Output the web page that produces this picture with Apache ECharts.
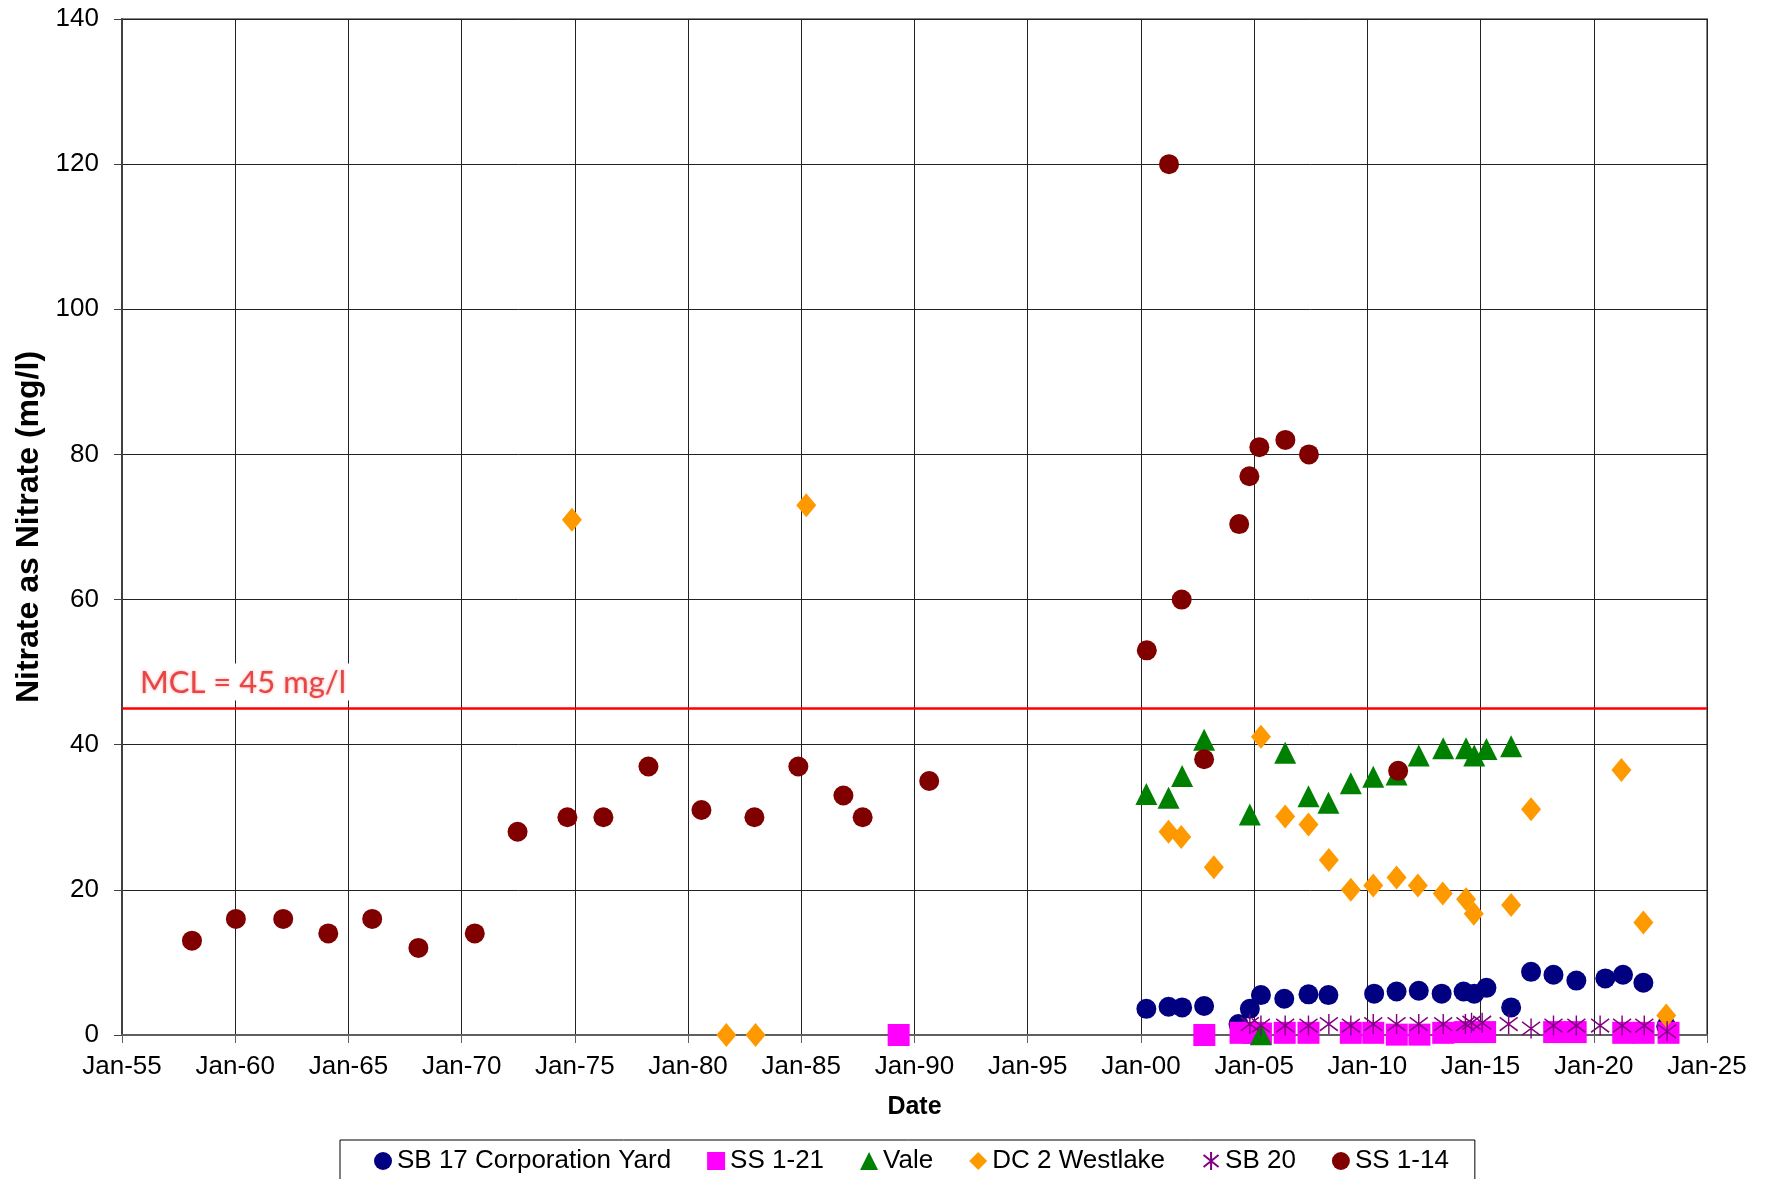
<!DOCTYPE html>
<html>
<head>
<meta charset="utf-8">
<title>Nitrate as Nitrate</title>
<script src="https://cdn.jsdelivr.net/npm/echarts@6/dist/echarts.min.js"></script>
<style>
    html, body {margin: 0; padding: 0; background: #fff;}
    #chart {width: 1767px; height: 1179px;}
</style>
</head>
<body>
<div id="chart"></div>
<script>
// x values are decimal years, y values are mg/l
const yearTicks = [1955, 1960, 1965, 1970, 1975, 1980, 1985, 1990, 1995, 2000, 2005, 2010, 2015, 2020, 2025];
const mclValue = 45;

const sb17Years = [2000.24, 2001.22, 2001.82, 2002.79, 2004.31, 2004.81, 2005.30, 2006.33, 2007.40, 2008.28,
    2010.30, 2011.29, 2012.27, 2013.28, 2014.25, 2014.72, 2015.26, 2016.35, 2017.23, 2018.22,
    2019.23, 2020.51, 2021.29, 2022.19, 2023.20];
const sb17Values = [3.6, 3.9, 3.8, 4.0, 1.5, 3.6, 5.5, 5.0, 5.6, 5.5,
    5.7, 6.0, 6.1, 5.7, 6.0, 5.7, 6.5, 3.8, 8.7, 8.3,
    7.5, 7.8, 8.3, 7.2, 1.2];

const ss121Years = [1989.3, 2002.8, 2004.4, 2004.95, 2005.3, 2006.35, 2007.4, 2009.27, 2010.26, 2011.3,
    2012.3, 2013.35, 2014.3, 2015.2, 2018.25, 2019.2, 2021.3, 2022.2, 2023.3];
const ss121Values = [0, 0, 0.3, 0.3, 0.2, 0.3, 0.3, 0.3, 0.3, 0.05,
    0.05, 0.3, 0.4, 0.4, 0.4, 0.4, 0.3, 0.3, 0.3];

const valeYears = [2000.24, 2001.22, 2001.82, 2002.79, 2004.81, 2005.30, 2006.37, 2007.40, 2008.28, 2009.27,
    2010.26, 2011.29, 2012.27, 2013.35, 2014.36, 2014.72, 2015.26, 2016.35];
const valeValues = [33.2, 32.7, 35.7, 40.7, 30.4, 0.1, 38.9, 32.9, 32.0, 34.7,
    35.6, 35.9, 38.5, 39.5, 39.5, 38.5, 39.4, 39.8];

const dc2Years = [1974.87, 1981.69, 1982.98, 1985.22, 2001.22, 2001.78, 2003.22, 2005.30, 2006.37, 2007.40,
    2008.30, 2009.27, 2010.26, 2011.29, 2012.23, 2013.33, 2014.36, 2014.70, 2016.35, 2017.23,
    2021.22, 2022.19, 2023.20];
const dc2Values = [71, 0, 0, 73, 28.0, 27.3, 23.1, 41.1, 30.1, 29.0,
    24.1, 20.0, 20.6, 21.7, 20.6, 19.5, 18.7, 16.7, 17.9, 31.1,
    36.5, 15.5, 2.7];

const sb20Years = [2004.81, 2005.30, 2006.37, 2007.40, 2008.30, 2009.27, 2010.26, 2011.29, 2012.27, 2013.35,
    2014.33, 2014.6, 2015.07, 2016.24, 2017.23, 2018.22, 2019.23, 2020.28, 2021.25, 2022.23, 2023.24];
const sb20Values = [1.5, 1.3, 1.3, 1.3, 1.5, 1.3, 1.5, 1.5, 1.5, 1.5,
    1.5, 1.7, 1.7, 1.5, 0.9, 1.3, 1.3, 1.3, 1.3, 1.3, 0.5];

const ss114Years = [1958.09, 1960.03, 1962.12, 1964.11, 1966.05, 1968.09, 1970.58, 1972.47, 1974.67, 1976.26,
    1978.25, 1980.59, 1982.93, 1984.87, 1986.86, 1987.71, 1990.65, 2000.26, 2001.24, 2001.80,
    2002.79, 2004.34, 2004.79, 2005.23, 2006.38, 2007.42, 2011.36];
const ss114Values = [13, 16, 16, 14, 16, 12, 14, 28, 30, 30,
    37, 31, 30, 37, 33, 30, 35, 53, 120, 60,
    38, 70.4, 77, 81, 82, 80, 36.4];

function pairs(xs, ys) {
    let list = [];
    for (let i = 0; i < xs.length; i++) {
        list.push([xs[i], ys[i]]);
    }
    return list;
}

const font = '"Liberation Sans", Arial, sans-serif';
const asterisk = 'path://M5,0L5,12M0,2L10,10M0,10L10,2';

let chart = echarts.init(document.getElementById('chart'), null, {renderer: 'canvas'});
chart.setOption({
    animation: false,
    textStyle: {fontFamily: font, color: '#000'},
    grid: {
        left: 122,
        right: 60,
        top: 19,
        bottom: 144,
        show: true,
        borderColor: '#888',
        borderWidth: 2
    },
    legend: {
        left: 340,
        top: 1140,
        padding: [8, 26, 30, 34],
        borderColor: '#000',
        borderWidth: 1,
        itemGap: 36,
        itemWidth: 18,
        itemHeight: 18,
        textStyle: {fontSize: 26, fontFamily: font, color: '#000'},
        data: ['SB 17 Corporation Yard', 'SS 1-21', 'Vale', 'DC 2 Westlake', 'SB 20', 'SS 1-14']
    },
    xAxis: {
        type: 'value',
        min: yearTicks[0],
        max: yearTicks[yearTicks.length - 1],
        interval: 5,
        name: 'Date',
        nameLocation: 'middle',
        nameGap: 60,
        nameTextStyle: {fontSize: 25, fontWeight: 'bold', color: '#000'},
        axisLine: {lineStyle: {color: '#606060', width: 2}},
        axisTick: {show: true, length: 8, lineStyle: {color: '#606060', width: 1}},
        axisLabel: {
            fontSize: 26,
            color: '#000',
            margin: 19,
            formatter: function (v) {
                return 'Jan-' + String(v % 100).padStart(2, '0');
            }
        },
        splitLine: {show: true, lineStyle: {color: '#222', width: 1}}
    },
    yAxis: {
        type: 'value',
        min: 0,
        max: 140,
        interval: 20,
        name: 'Nitrate as Nitrate (mg/l)',
        nameLocation: 'middle',
        nameGap: 73,
        nameTextStyle: {fontSize: 32, fontWeight: 'bold', color: '#000'},
        axisLine: {show: true, lineStyle: {color: '#404040', width: 2}},
        axisTick: {show: true, length: 8, lineStyle: {color: '#404040', width: 1}},
        axisLabel: {fontSize: 26, color: '#000', margin: 23},
        splitLine: {show: true, lineStyle: {color: '#222', width: 1}}
    },
    series: [
        {
            name: 'SB 17 Corporation Yard',
            type: 'scatter',
            symbol: 'circle',
            symbolSize: 20,
            itemStyle: {color: '#000080', opacity: 1},
            data: pairs(sb17Years, sb17Values),
            markLine: {
                silent: true,
                symbol: ['none', 'none'],
                lineStyle: {color: '#FF0000', width: 2.5, type: 'solid'},
                label: {
                    show: true,
                    position: 'insideStartTop',
                    formatter: 'MCL = ' + mclValue + ' mg/l',
                    fontFamily: 'Lato, "Open Sans", sans-serif',
                    fontSize: 31,
                    color: '#E84545',
                    textShadowColor: 'rgba(232,69,69,0.5)',
                    textShadowBlur: 3,
                    backgroundColor: '#fff',
                    padding: [4, 6, 2, 6],
                    distance: [12, 8]
                },
                data: [{yAxis: mclValue}]
            }
        },
        {
            name: 'SS 1-21',
            type: 'scatter',
            symbol: 'rect',
            symbolSize: 22,
            itemStyle: {color: '#FF00FF', opacity: 1},
            data: pairs(ss121Years, ss121Values)
        },
        {
            name: 'Vale',
            type: 'scatter',
            symbol: 'triangle',
            symbolSize: [22, 22],
            itemStyle: {color: '#008000', opacity: 1},
            data: pairs(valeYears, valeValues)
        },
        {
            name: 'DC 2 Westlake',
            type: 'scatter',
            symbol: 'diamond',
            symbolSize: [20, 24],
            itemStyle: {color: '#FF9900', opacity: 1},
            data: pairs(dc2Years, dc2Values)
        },
        {
            name: 'SB 20',
            type: 'scatter',
            symbol: asterisk,
            symbolSize: [18, 20],
            itemStyle: {color: 'none', borderColor: '#800080', borderWidth: 1.5, opacity: 1},
            data: pairs(sb20Years, sb20Values)
        },
        {
            name: 'SS 1-14',
            type: 'scatter',
            symbol: 'circle',
            symbolSize: 20,
            itemStyle: {color: '#800000', opacity: 1},
            data: pairs(ss114Years, ss114Values)
        }
    ]
});
</script>
</body>
</html>
